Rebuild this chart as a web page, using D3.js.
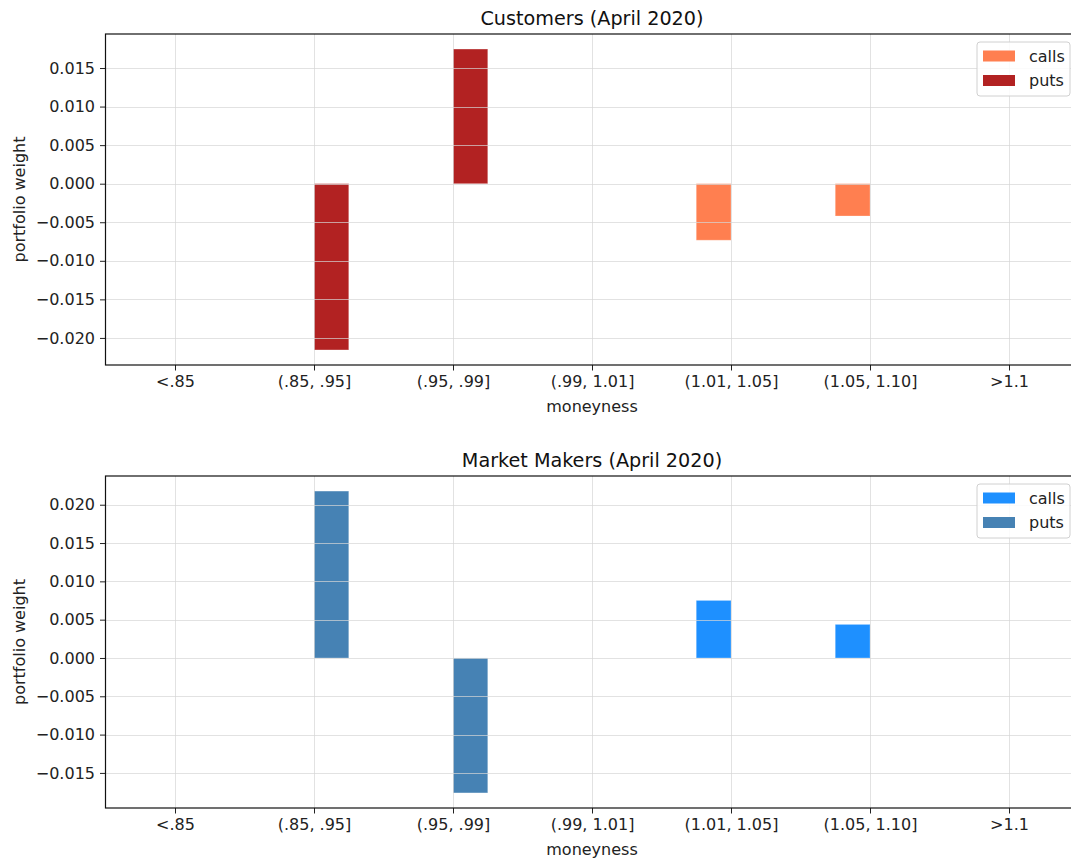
<!DOCTYPE html>
<html>
<head>
<meta charset="utf-8">
<script src="https://cdn.jsdelivr.net/npm/d3@7"></script>
<style>
  body { margin: 0; background: #fff; }
  svg { display: block; font-family: "DejaVu Sans", sans-serif; }
</style>
</head>
<body>
<div id="chart"></div>
<script>
// moneyness buckets and portfolio weights
var categories = ["<.85", "(.85, .95]", "(.95, .99]", "(.99, 1.01]", "(1.01, 1.05]", "(1.05, 1.10]", ">1.1"];
var custCalls = [0, 0, 0, 0, -0.00733, -0.00419, 0];
var custPuts = [0, -0.02156, 0.01746, 0, 0, 0, 0];
var mmCalls = [0, 0, 0, 0, 0.00751, 0.00438, 0];
var mmPuts = [0, 0.02178, -0.01761, 0, 0, 0, 0];

var panels = [
  { title: "Customers (April 2020)", calls: custCalls, puts: custPuts, callColor: "#ff7f50", putColor: "#b22222", top: 34, bottom: 365 },
  { title: "Market Makers (April 2020)", calls: mmCalls, puts: mmPuts, callColor: "#1e90ff", putColor: "#4682b4", top: 476, bottom: 808 }
];

var W = 1071, H = 858, left = 105.5, right = 1078.5, barW = 0.25;

var svg = d3.select("#chart").append("svg").attr("width", W).attr("height", H);

var x = d3.scaleLinear().domain([-0.5, categories.length - 0.5]).range([left, right]);

panels.forEach(function (p) {
  var all = p.calls.concat(p.puts);
  var lo = d3.min(all), hi = d3.max(all), pad = (hi - lo) * 0.05;
  var y = d3.scaleLinear().domain([lo - pad, hi + pad]).range([p.bottom, p.top]);
  var g = svg.append("g");

  // bars: calls left of the tick, puts right of it
  function bars(vals, off, color) {
    g.append("g").selectAll("rect").data(vals).join("rect")
      .attr("x", function (d, i) { return x(i + off); })
      .attr("width", x(barW) - x(0))
      .attr("y", function (d) { return y(Math.max(0, d)); })
      .attr("height", function (d) { return Math.abs(y(d) - y(0)); })
      .attr("fill", color)
      .attr("stroke", "#fff").attr("stroke-opacity", 0.25).attr("stroke-width", 1);
  }
  bars(p.calls, -barW, p.callColor);
  bars(p.puts, 0, p.putColor);

  // grid drawn over the bars
  var grid = g.append("g").attr("stroke", "#d6d6d6").attr("stroke-opacity", 0.7).attr("stroke-width", 1);
  grid.selectAll("line.v").data(d3.range(categories.length)).join("line")
    .attr("x1", function (i) { return Math.round(x(i)) + 0.5; }).attr("x2", function (i) { return Math.round(x(i)) + 0.5; })
    .attr("y1", p.top).attr("y2", p.bottom);
  grid.selectAll("line.h").data(y.ticks(10)).join("line")
    .attr("y1", function (d) { return Math.round(y(d)) + 0.5; }).attr("y2", function (d) { return Math.round(y(d)) + 0.5; })
    .attr("x1", left).attr("x2", right);

  var xAxis = d3.axisBottom(x).tickValues(d3.range(categories.length))
    .tickFormat(function (i) { return categories[i]; }).tickSize(5.5).tickPadding(5).tickSizeOuter(0);
  var yAxis = d3.axisLeft(y).ticks(10).tickFormat(d3.format(".3f")).tickSize(5.5).tickPadding(5).tickSizeOuter(0);

  var gx = g.append("g").attr("transform", "translate(0," + p.bottom + ")").call(xAxis);
  var gy = g.append("g").attr("transform", "translate(" + left + ",0)").call(yAxis);
  [gx, gy].forEach(function (a) {
    a.select(".domain").remove();
    a.attr("font-size", 16).attr("font-family", "DejaVu Sans");
    a.selectAll("text").attr("fill", "#222");
    a.selectAll("line").attr("stroke", "#222");
  });

  g.append("rect").attr("x", left).attr("y", p.top).attr("width", right - left).attr("height", p.bottom - p.top)
    .attr("fill", "none").attr("stroke", "#111").attr("stroke-width", 1.2);

  g.append("text").attr("x", (left + right) / 2).attr("y", p.top - 9).attr("text-anchor", "middle")
    .attr("font-size", 19.2).attr("fill", "#111").text(p.title);
  g.append("text").attr("x", 592).attr("y", p.bottom + 47).attr("text-anchor", "middle")
    .attr("font-size", 16).attr("fill", "#222").text("moneyness");
  g.append("text").attr("transform", "translate(25," + (p.top + p.bottom) / 2 + ") rotate(-90)")
    .attr("text-anchor", "middle").attr("font-size", 16).attr("fill", "#222").text("portfolio weight");

  // legend
  var lg = g.append("g").attr("transform", "translate(977," + (p.top + 8) + ")");
  lg.append("rect").attr("width", 93).attr("height", 54).attr("rx", 3)
    .attr("fill", "#fff").attr("fill-opacity", 0.85).attr("stroke", "#d0d0d0");
  var items = [["calls", p.callColor], ["puts", p.putColor]];
  items.forEach(function (it, k) {
    var cy = 14 + k * 24.5;
    lg.append("rect").attr("x", 6).attr("y", cy - 5.5).attr("width", 32).attr("height", 11).attr("fill", it[1]);
    lg.append("text").attr("x", 52).attr("y", cy + 5.5).attr("font-size", 16).attr("fill", "#222").text(it[0]);
  });
});
</script>
</body>
</html>
